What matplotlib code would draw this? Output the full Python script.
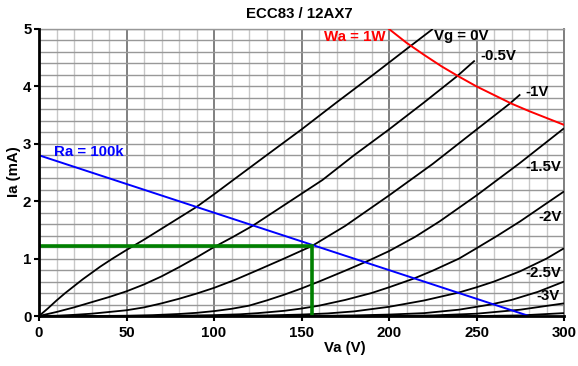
import matplotlib
matplotlib.use("Agg")
import matplotlib.pyplot as plt
from matplotlib.ticker import MultipleLocator

plt.rcParams['font.family'] = ['Liberation Sans', 'DejaVu Sans']
plt.rcParams['font.weight'] = 'bold'

# ---- data ----
vg0_va = [0, 5, 10, 15, 20, 25, 30, 35, 42, 50, 60, 70, 80, 90, 100, 111, 130, 150, 170, 190, 210, 225]
vg0_ia = [0, 0.13, 0.27, 0.4, 0.52, 0.64, 0.75, 0.86, 1.0, 1.15, 1.33, 1.52, 1.71, 1.9, 2.12, 2.37, 2.8, 3.25, 3.72, 4.18, 4.65, 5.0]

vg05_va = [0, 10, 20, 30, 40, 50, 60, 70, 80, 90, 100, 111, 122, 135, 150, 162, 180, 200, 220, 239, 249]
vg05_ia = [0, 0.07, 0.15, 0.24, 0.33, 0.43, 0.55, 0.69, 0.85, 1.02, 1.2, 1.38, 1.57, 1.83, 2.13, 2.37, 2.8, 3.25, 3.72, 4.18, 4.45]

vg1_va = [0, 10, 20, 30, 40, 50, 60, 70, 80, 90, 100, 112, 125, 140, 156, 175, 200, 225, 248, 269, 275]
vg1_ia = [0, 0.005, 0.02, 0.04, 0.07, 0.1, 0.15, 0.22, 0.3, 0.39, 0.49, 0.63, 0.8, 1.0, 1.22, 1.57, 2.1, 2.65, 3.2, 3.7, 3.86]

vg15_va = [0, 30, 50, 65, 80, 90, 100, 110, 120, 130, 140, 150, 160, 175, 188, 200, 215, 229, 250, 275, 300]
vg15_ia = [0, 0.0, 0.005, 0.015, 0.035, 0.055, 0.085, 0.125, 0.18, 0.27, 0.37, 0.48, 0.6, 0.79, 0.96, 1.13, 1.38, 1.65, 2.1, 2.67, 3.27]

vg2_va = [0, 60, 80, 100, 115, 125, 140, 150, 160, 175, 190, 200, 214, 225, 240, 250, 262, 275, 287, 300]
vg2_ia = [0, 0, 0.005, 0.015, 0.03, 0.05, 0.09, 0.13, 0.18, 0.28, 0.4, 0.5, 0.65, 0.79, 1.0, 1.18, 1.4, 1.65, 1.9, 2.17]

vg25_va = [0, 100, 130, 150, 165, 180, 200, 220, 240, 250, 260, 275, 290, 300]
vg25_ia = [0, 0, 0.01, 0.025, 0.045, 0.08, 0.16, 0.27, 0.41, 0.5, 0.6, 0.78, 1.0, 1.18]

vg3_va = [0, 150, 180, 200, 220, 240, 258, 270, 285, 300]
vg3_ia = [0, 0, 0.01, 0.025, 0.05, 0.11, 0.2, 0.28, 0.42, 0.6]

vg35_va = [0, 200, 225, 250, 275, 300]
vg35_ia = [0, 0, 0.01, 0.04, 0.11, 0.22]

vg4_va = [0, 250, 275, 300]
vg4_ia = [0, 0, 0.01, 0.05]

wa_va = [200, 210, 220, 230, 240, 250, 260, 270, 280, 290, 300]
wa_ia = [5.0, 4.76, 4.55, 4.35, 4.17, 4.0, 3.85, 3.7, 3.57, 3.45, 3.33]

ra_va = [0, 280]
ra_ia = [2.8, 0]

q_va = 156
q_ia = 1.22

curve_labels = ["Vg = 0V", "-0.5V", "-1V", "-1.5V", "-2V", "-2.5V", "-3V"]
curve_label_pos = [(241, 4.88), (262.5, 4.53), (284.6, 3.90), (288, 2.60),
                   (292, 1.72), (288, 0.75), (291, 0.35)]

FS = 10.8

# ---- figure ----
fig = plt.figure(figsize=(5.78, 3.66), dpi=100)
ax = fig.add_axes([39/578, 1-316/366, 525/578, 287/366])
ax.set_xlim(0, 300)
ax.set_ylim(0, 5)

# grid
ax.xaxis.set_major_locator(MultipleLocator(50))
ax.xaxis.set_minor_locator(MultipleLocator(10))
ax.yaxis.set_major_locator(MultipleLocator(1))
ax.yaxis.set_minor_locator(MultipleLocator(0.2))
ax.grid(which='minor', axis='x', color='#c8c8c8', lw=1.0)
ax.grid(which='major', axis='x', color='#808080', lw=1.4)
ax.grid(which='both', axis='y', color='#989898', lw=1.0)
ax.set_axisbelow(True)

ax.spines['top'].set_color('#989898')
ax.spines['top'].set_linewidth(1.0)
ax.spines['right'].set_color('#808080')
ax.spines['right'].set_linewidth(1.4)
for s in ['left', 'bottom']:
    ax.spines[s].set_color('black')
    ax.spines[s].set_linewidth(2.0)
    ax.spines[s].set_zorder(5)

ax.tick_params(which='minor', length=0)
ax.tick_params(which='major', direction='out', length=3.5, width=1.5, colors='black',
               labelsize=FS)
ax.tick_params(axis='y', pad=2)
ax.tick_params(axis='x', pad=3.5)
for lab in ax.get_xticklabels() + ax.get_yticklabels():
    lab.set_fontweight('bold')

# tube curves
for va, ia in [(vg0_va, vg0_ia), (vg05_va, vg05_ia), (vg1_va, vg1_ia),
               (vg15_va, vg15_ia), (vg2_va, vg2_ia), (vg25_va, vg25_ia),
               (vg3_va, vg3_ia), (vg35_va, vg35_ia), (vg4_va, vg4_ia)]:
    ax.plot(va, ia, color='black', lw=1.3, zorder=3, solid_capstyle='butt',
            solid_joinstyle='round')

# power limit
ax.plot(wa_va, wa_ia, color='#ff0000', lw=1.4, zorder=4)
# load line
ax.plot(ra_va, ra_ia, color='#0000ff', lw=1.4, zorder=4)
# operating point
ax.plot([0, q_va, q_va], [q_ia, q_ia, 0], color='#008000', lw=2.6, zorder=4,
        solid_joinstyle='miter')

for txt, (x, y) in zip(curve_labels, curve_label_pos):
    ax.text(x, y, txt, fontsize=FS, fontweight='bold', ha='center', va='center',
            color='black', zorder=6)
ax.text(180.6, 4.86, "Wa = 1W", fontsize=FS, fontweight='bold', color='#ff0000',
        ha='center', va='center', zorder=6)
ax.text(28.6, 2.86, "Ra = 100k", fontsize=FS, fontweight='bold', color='#0000ff',
        ha='center', va='center', zorder=6)

fig.text(299/578, 1-14/366, "ECC83 / 12AX7", fontsize=FS, fontweight='bold',
         ha='center', va='center')
fig.text(345/578, 1-348/366, "Va (V)", fontsize=FS, fontweight='bold',
         ha='center', va='center')
fig.text(14/578, 1-172/366, "Ia (mA)", fontsize=FS, fontweight='bold',
         ha='center', va='center', rotation=90)

fig.savefig("out.png", dpi=100, facecolor='white')
